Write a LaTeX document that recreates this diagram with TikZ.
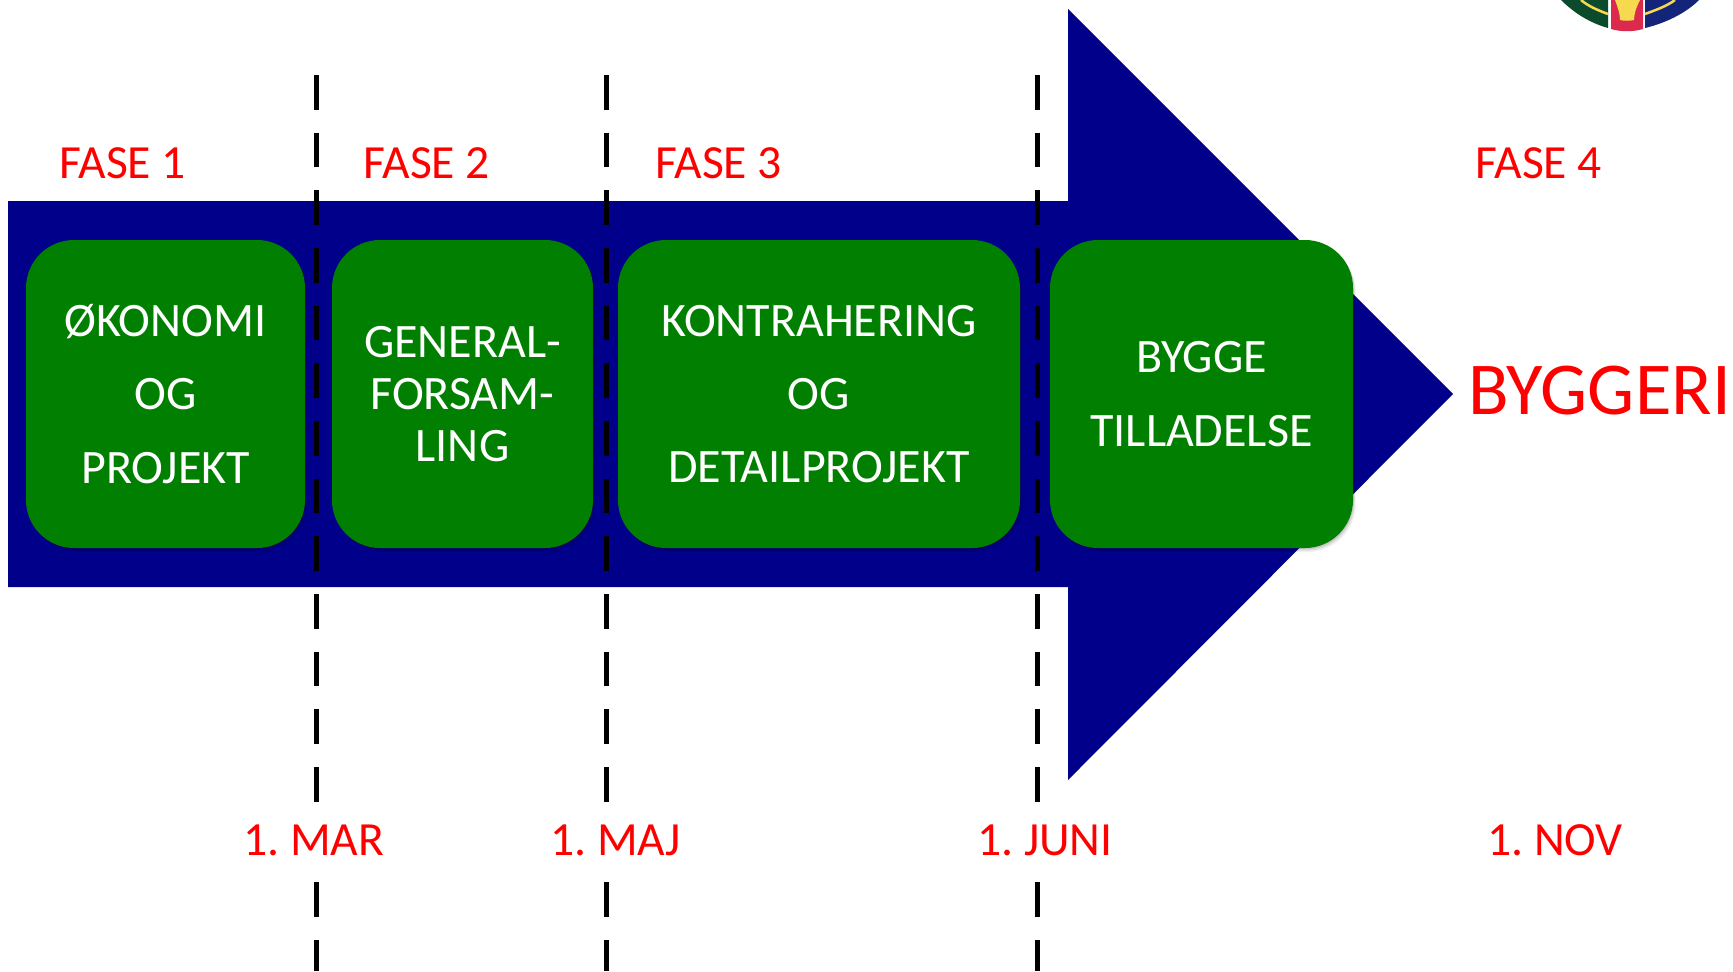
\documentclass[tikz,border=0pt]{standalone}
\usepackage{fontspec}
\setmainfont{Carlito}
\usetikzlibrary{shadows}
\definecolor{arrowblue}{HTML}{00008B}
\definecolor{boxgreen}{HTML}{007F00}
\definecolor{logogreen}{HTML}{0B4A2C}
\definecolor{logonavy}{HTML}{14247A}
\definecolor{logored}{HTML}{DC2A4E}
\definecolor{logoyellow}{HTML}{F6D94E}
\tikzset{
  x=0.75pt, y=-0.75pt,
  phasebox/.style={
    rounded corners=36pt, fill=boxgreen, text=white, inner sep=0pt, align=center,
    font=\fontsize{36}{#1}\selectfont,
    general shadow={fill=black,opacity=.06,shadow xshift=2pt,shadow yshift=-3pt},
    general shadow={fill=black,opacity=.08,shadow xshift=1.3pt,shadow yshift=-2pt},
    general shadow={fill=black,opacity=.10,shadow xshift=.6pt,shadow yshift=-1pt}},
  marker/.style={line width=3.75pt, black, dash pattern=on 25.95pt off 17.3pt},
  redtext/.style={text=red, inner xsep=0pt, inner ysep=0pt, anchor=base west, font=\fontsize{35.7}{40}\selectfont\frenchspacing},
  bigtext/.style={redtext, font=\fontsize{56}{60}\selectfont},
  datetext/.style={redtext, fill=white, inner ysep=4pt},
}
\begin{document}
\begin{tikzpicture}
\useasboundingbox (0,0) rectangle (1733,971);
% logo fragment
\fill[logogreen] (1561,0) .. controls (1574,13) and (1590,23) .. (1608,28) -- (1608,0) -- cycle;
\fill[logonavy] (1699,0) .. controls (1686,13) and (1666,23) .. (1645,28) -- (1645,0) -- cycle;
\draw[logoyellow,line width=1.9pt] (1581,0) .. controls (1588,6) and (1597,10) .. (1608,14);
\draw[logoyellow,line width=1.9pt] (1675,0) .. controls (1667,6) and (1656,10) .. (1645,14);
\fill[logored] (1611,0) -- (1643,0) -- (1643,29) .. controls (1633,32) and (1621,32) .. (1611,29) -- cycle;
\fill[logoyellow] (1615,0) -- (1640,0) .. controls (1636,8) and (1634,14) .. (1634,20) .. controls (1630,21) and (1624,21) .. (1620,20) .. controls (1620,14) and (1618,8) .. (1615,0) -- cycle;
% arrow
\fill[arrowblue] (8,201) -- (1068,201) -- (1068,9) -- (1453,394) -- (1068,780) -- (1068,587) -- (8,587) -- cycle;
% phase boxes
\node[phasebox=55pt,minimum width=209.25pt,minimum height=231pt] (b1) at (165.5,394) {ØKONOMI\\OG\\PROJEKT};
\node[phasebox=39pt,minimum width=195.75pt,minimum height=231pt] (b2) at (462.5,394) {GENERAL-\\FORSAM-\\LING};
\node[phasebox=55pt,minimum width=301.5pt,minimum height=231pt] (b3) at (819,394) {KONTRAHERING\\OG\\DETAILPROJEKT};
\node[phasebox=55pt,minimum width=227.25pt,minimum height=231pt] (b4) at (1201.5,394) {BYGGE\\TILLADELSE};
% date markers
\coordinate (m1t) at (316,75); \coordinate (m1b) at (316,971);
\coordinate (m2t) at (606.5,75); \coordinate (m2b) at (606.5,971);
\coordinate (m3t) at (1037.5,75); \coordinate (m3b) at (1037.5,971);
\draw[marker] (m1t) -- (m1b);
\draw[marker] (m2t) -- (m2b);
\draw[marker] (m3t) -- (m3b);
% labels
\node[redtext] (f1) at (59,178) {FASE 1};
\node[redtext] (f2) at (363,178) {FASE 2};
\node[redtext] (f3) at (655,178) {FASE 3};
\node[redtext] (f4) at (1475,178) {FASE 4};
\node[datetext] (d1) at (243,855) {1. MAR};
\node[datetext] (d2) at (550,855) {1. MAJ};
\node[datetext] (d3) at (977,855) {1. JUNI};
\node[redtext] (d4) at (1487,855) {1. NOV};
\node[bigtext] (big) at (1468,414) {BYGGERI};
\end{tikzpicture}
\end{document}
